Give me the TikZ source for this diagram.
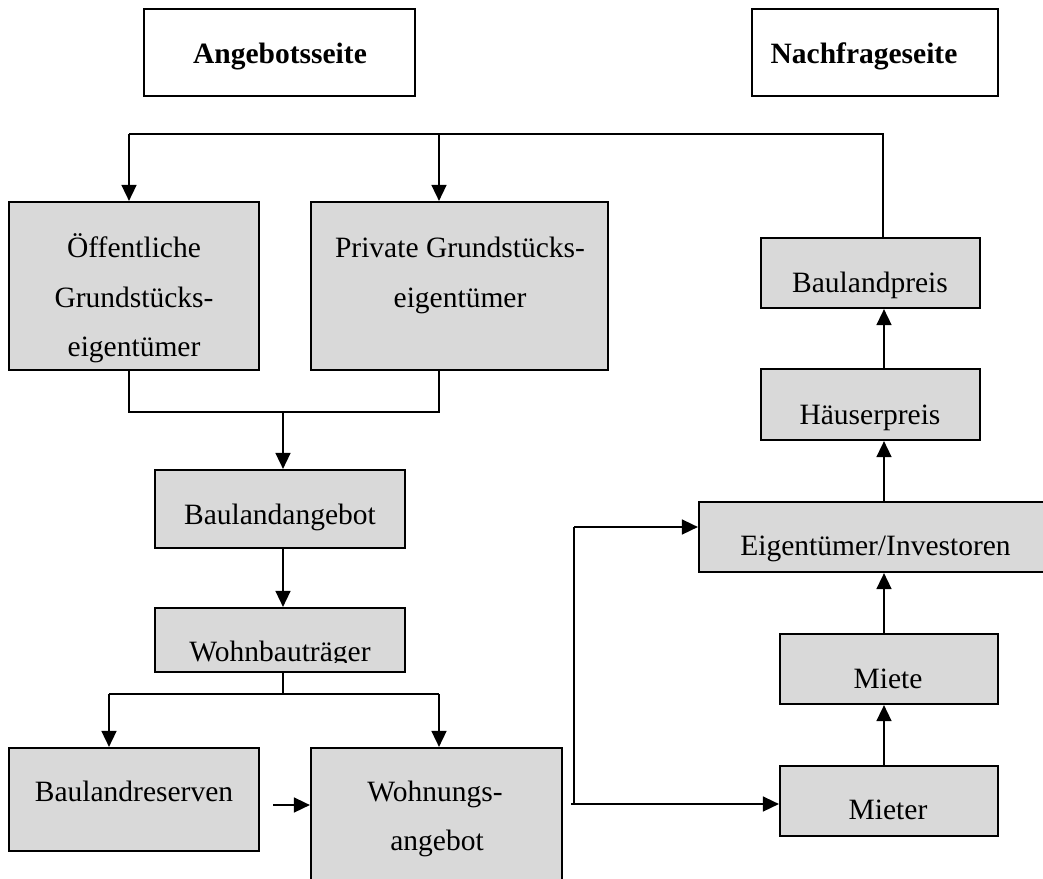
\documentclass[tikz,border=0pt]{standalone}
\usepackage{fontspec}
\setmainfont{Liberation Serif}
\usetikzlibrary{arrows.meta,calc}
\definecolor{boxgray}{RGB}{217,217,217}
\begin{document}
\begin{tikzpicture}[x=1pt,y=-1pt,
  every node/.style={font=\fontsize{29.5}{34}\selectfont},
  hbox/.style={draw=black,line width=2.2pt,fill=white,inner sep=0pt,rectangle},
  gbox/.style={draw=black,line width=2.2pt,fill=boxgray,inner sep=0pt,rectangle},
  txt/.style={anchor=base,inner sep=0pt},
  conn/.style={line width=1.6pt},
  arr/.style={line width=1.6pt,-{Triangle[length=16pt,width=15pt]}}]
\useasboundingbox (0,0) rectangle (1043,878);
\clip (0,0) rectangle (1043,878);
\fill[white] (0,0) rectangle (1043,878);
% boxes
\node[hbox,minimum width=271pt,minimum height=87pt] (angebot) at (279.5,52.5) {};
\node[hbox,minimum width=246pt,minimum height=87pt] (nachfrage) at (875,52.5) {};
\node[gbox,minimum width=250pt,minimum height=168pt] (oeff) at (134,286) {};
\node[gbox,minimum width=297pt,minimum height=168pt] (priv) at (459.5,286) {};
\node[gbox,minimum width=219pt,minimum height=70pt] (bpreis) at (870.5,273) {};
\node[gbox,minimum width=219pt,minimum height=71pt] (hpreis) at (870.5,404.5) {};
\node[gbox,minimum width=250pt,minimum height=78pt] (bangebot) at (280,509) {};
\node[gbox,minimum width=250pt,minimum height=64pt] (wbt) at (280,640) {};
\node[gbox,minimum width=250pt,minimum height=103pt] (breserven) at (134,799.5) {};
\node[gbox,minimum width=251pt,minimum height=152pt] (wangebot) at (436.5,824) {};
\node[gbox,minimum width=353pt,minimum height=70pt] (eigent) at (875.5,537) {};
\node[gbox,minimum width=218pt,minimum height=70pt] (miete) at (889,669) {};
\node[gbox,minimum width=218pt,minimum height=70pt] (mieter) at (889,801) {};
% texts
\node[txt,font=\fontsize{29.5}{34}\selectfont\bfseries] (tangebot) at (280,63) {Angebotsseite};
\node[txt,font=\fontsize{29.5}{34}\selectfont\bfseries] (tnachfrage) at (864,63) {Nachfrageseite};
\node[txt] (toeff1) at (134,257) {Öffentliche};
\node[txt] (toeff2) at (134,307) {Grundstücks-};
\node[txt] (toeff3) at (134,356) {eigentümer};
\node[txt] (tpriv1) at (460,257) {Private Grundstücks-};
\node[txt] (tpriv2) at (460,307) {eigentümer};
\node[txt] (tbpreis) at (870,292) {Baulandpreis};
\node[txt] (thpreis) at (870,424) {Häuserpreis};
\node[txt] (tbangebot) at (280,524) {Baulandangebot};
\begin{scope}
\clip (150,600) rectangle (410,662);
\node[txt] (twbt) at (280,661) {Wohnbauträger};
\end{scope}
\node[txt] (tbreserven) at (134,801) {Baulandreserven};
\node[txt] (twang1) at (435,801) {Wohnungs-};
\node[txt] (twang2) at (437,850) {angebot};
\node[txt] (teigent) at (875.5,555) {Eigentümer/Investoren};
\node[txt] (tmiete) at (888,688) {Miete};
\node[txt] (tmieter) at (888,819) {Mieter};
% junction coordinates
\coordinate (topL) at (129,134);
\coordinate (topM) at (439,134);
\coordinate (topR) at (883,134);
\coordinate (botL) at (129,412);
\coordinate (botR) at (439,412);
\coordinate (botM) at (283,412);
\coordinate (wL) at (109,694);
\coordinate (wM) at (283,694);
\coordinate (wR) at (439,694);
\coordinate (resStart) at (273,805);
\coordinate (wStart) at (571,804);
\coordinate (wV) at (574,804);
\coordinate (wTop) at (574,527);
% connectors
\draw[conn] (topR |- bpreis.north) -- (topR) -- (topL);
\draw[arr] (topL) -- (topL |- oeff.north);
\draw[arr] (topM) -- (topM |- priv.north);
\draw[conn] (botL |- oeff.south) -- (botL) -- (botR) -- (botR |- priv.south);
\draw[arr] (botM) -- (botM |- bangebot.north);
\draw[arr] (botM |- bangebot.south) -- (botM |- wbt.north);
\draw[conn] (wM |- wbt.south) -- (wM);
\draw[conn] (wL) -- (wR);
\draw[arr] (wL) -- (wL |- breserven.north);
\draw[arr] (wR) -- (wR |- wangebot.north);
\draw[arr] (resStart) -- (resStart -| wangebot.west);
\draw[arr] (wStart) -- (wStart -| mieter.west);
\draw[conn] (wV) -- (wTop);
\draw[arr] (wTop) -- (wTop -| eigent.west);
\draw[arr] ($(hpreis.north)+(13.5,0)$) -- ($(bpreis.south)+(13.5,0)$);
\draw[arr] ($(eigent.north)+(8.5,0)$) -- ($(hpreis.south)+(13.5,0)$);
\draw[arr] ($(miete.north)+(-5,0)$) -- ($(eigent.south)+(8.5,0)$);
\draw[arr] ($(mieter.north)+(-5,0)$) -- ($(miete.south)+(-5,0)$);
\end{tikzpicture}
\end{document}
